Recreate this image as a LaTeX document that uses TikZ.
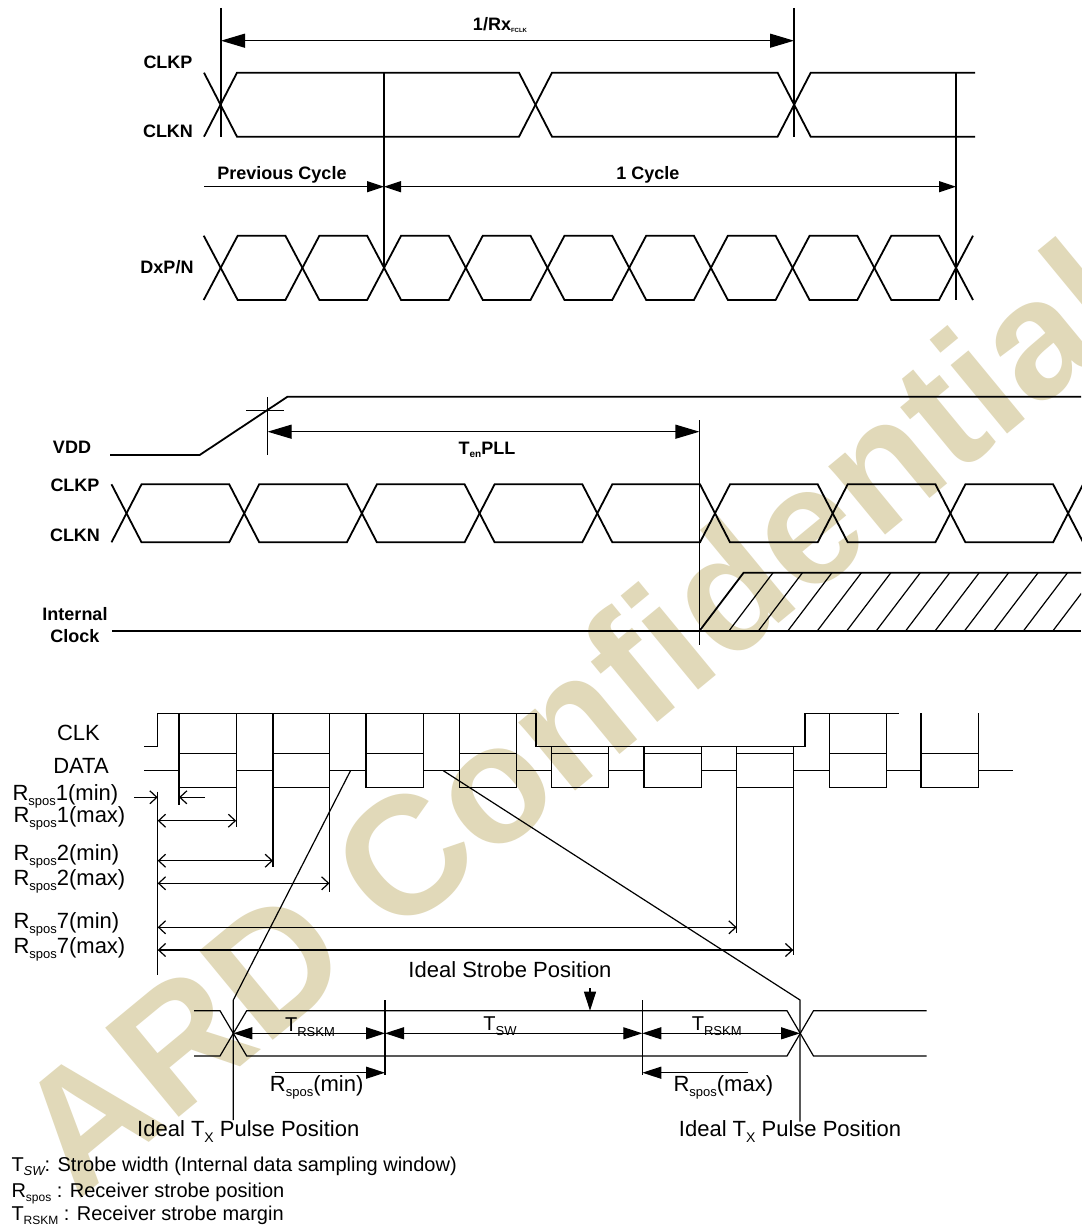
\documentclass[tikz,border=0pt]{standalone}
\usepackage{fontspec}
\setmainfont{Liberation Sans}
\usetikzlibrary{arrows.meta}
\newcommand{\subx}[3]{\raisebox{#1}{\fontsize{#2}{#2}\selectfont #3}}
\newcommand{\Rs}{R\subx{-0.22em}{13}{spos}}
\definecolor{wm}{RGB}{225,217,185}
\begin{document}
\begin{tikzpicture}[x=1pt,y=-1pt,
  wave/.style={line width=1.8pt},
  thinl/.style={line width=1.2pt},
  b18/.style={font=\fontsize{18}{20}\selectfont\bfseries},
  l22/.style={font=\fontsize{22}{24}\selectfont},
  l20/.style={font=\fontsize{20}{22}\selectfont},
  Big/.tip={Triangle[length=24pt,width=14pt]},
  Mid/.tip={Triangle[length=17pt,width=11pt]},
  Sec/.tip={Triangle[length=19pt,width=12pt]},
  Barb/.tip={Straight Barb[length=7pt,width=13pt]}]
\useasboundingbox (0,0) rectangle (1081,1228);
\fill[white] (0,0) rectangle (1081,1228);
% watermark
\begin{scope}
\clip (0,0) rectangle (1081,1228);
\node[rotate=39.5, text=wm, font=\fontsize{168}{168}\selectfont\bfseries] (wmk) at (572,716) {ARD Confidential};
\end{scope}

% ===== Section 1 =====
\node[b18] (rx) at (500,25) {1/Rx\subx{-0.1em}{6}{FCLK}};
\node[b18] (clkp1) at (168,62.7) {CLKP};
\node[b18] (clkn1) at (168,131) {CLKN};
\node[b18] (prev) at (282,175) {Previous Cycle};
\node[b18] (cyc) at (648,175) {1 Cycle};
\node[b18] (dxp) at (167,267) {DxP/N};

\draw[thinl] (221,8) -- (221,137);
\draw[thinl] (794,8) -- (794,137);
\draw[thinl,Big-Big] (221,40.7) -- (794,40.7);
\draw[thinl] (384,72.7) -- (384,267);
\draw[thinl] (956,73) -- (956,300);
\draw[thinl,-Mid] (204,186.7) -- (384,186.7);
\draw[thinl,Mid-Mid] (384,186.7) -- (956,186.7);

\draw[wave] (204,72.7)--(237,136.7)--(519,136.7)--(552,72.7)--(777.6,72.7)--(810.7,136.7)--(975,136.7);
\draw[wave] (204,136.7)--(237,72.7)--(519,72.7)--(552,136.7)--(777.6,136.7)--(810.7,72.7)--(975,72.7);

\draw[wave] (203.7,235.7) \foreach \k in {0,...,9}{
  -- ({220.7+81.7*\k-17},{mod(\k,2)==0 ? 235.7 : 300})
  -- ({220.7+81.7*\k+17},{mod(\k,2)==0 ? 300 : 235.7}) };
\draw[wave] (203.7,300) \foreach \k in {0,...,9}{
  -- ({220.7+81.7*\k-17},{mod(\k,2)==0 ? 300 : 235.7})
  -- ({220.7+81.7*\k+17},{mod(\k,2)==0 ? 235.7 : 300}) };

% ===== Section 2 =====
\node[b18] (vdd) at (72,447.3) {VDD};
\node[b18] (clkp2) at (75,485) {CLKP};
\node[b18] (clkn2) at (75,535.7) {CLKN};
\node[b18] (int) at (75,614.3) {Internal};
\node[b18] (clk2) at (75,636) {Clock};
\node[b18] (ten) at (487,450) {T\subx{-0.2em}{10}{en}PLL};

\draw[wave] (110,455)--(199.7,455)--(287.5,396.7)--(1081,396.7);
\draw[thinl] (267.6,397.3)--(267.6,455);
\draw[thinl] (246,410.7)--(284,410.7);
\draw[thinl,Big-Big] (267.6,431.7)--(699.4,431.7);
\draw[thinl] (699.4,420)--(699.4,645);

\draw[wave] (111.5,484.3) \foreach \k in {0,...,8}{
  -- ({126.5+117.7*\k-15},{mod(\k,2)==0 ? 484.3 : 542.3})
  -- ({126.5+117.7*\k+15},{mod(\k,2)==0 ? 542.3 : 484.3}) };
\draw[wave] (111.5,542.3) \foreach \k in {0,...,8}{
  -- ({126.5+117.7*\k-15},{mod(\k,2)==0 ? 542.3 : 484.3})
  -- ({126.5+117.7*\k+15},{mod(\k,2)==0 ? 484.3 : 542.3}) };

\draw[wave] (112,631)--(1081,631);
\draw[wave] (699.4,631)--(743.6,572.7)--(1081,572.7);
\begin{scope}
\clip (699.4,631)--(743.6,572.7)--(1081,572.7)--(1081,631)--cycle;
\foreach \k in {1,...,13}{
  \draw[thinl] ({699.4+29.45*\k},631)--({699.4+29.45*\k+44.2},572.7);
}
\end{scope}

% ===== Section 3 =====
\node[l22] (clk3) at (78.5,733.3) {CLK};
\node[l22] (data3) at (81,765.7) {DATA};
\node[l22,anchor=west] (r1n) at (9,796.7) {\Rs1(min)};
\node[l22,anchor=west] (r1x) at (10,818.3) {\Rs1(max)};
\node[l22,anchor=west] (r2n) at (10,856.7) {\Rs2(min)};
\node[l22,anchor=west] (r2x) at (10,881.7) {\Rs2(max)};
\node[l22,anchor=west] (r7n) at (10,924) {\Rs7(min)};
\node[l22,anchor=west] (r7x) at (10,949.3) {\Rs7(max)};

% CLK
\draw[thinl] (144,746.7)--(157.7,746.7)--(157.7,713.3)--(536,713.3)--(536,746.7)--(805,746.7)--(805,713.3)--(899.3,713.3);
% DATA line segments
\draw[thinl] (144,770.7)--(179,770.7) (236.2,770.7)--(273,770.7) (329.5,770.7)--(366,770.7)
  (423.5,770.7)--(459.5,770.7) (516.6,770.7)--(551.7,770.7) (608.3,770.7)--(644,770.7)
  (701.7,770.7)--(736.7,770.7) (793.3,770.7)--(829.3,770.7) (886.7,770.7)--(921,770.7)
  (978.3,770.7)--(1013.3,770.7);
% boxes
\foreach \a/\b/\t in {179/236.2/713.3, 273/329.5/713.3, 366/423.5/713.3, 459.5/516.6/713.3,
   551.7/608.3/746.7, 644/701.7/746.7, 736.7/793.3/746.7, 829.3/886.7/713.3, 921/978.3/713.3}{
  \draw[thinl] (\a,\t)--(\a,787.3)--(\b,787.3)--(\b,\t);
  \draw[thinl] (\a,753.3)--(\b,753.3);
}
% extensions
\draw[thinl] (179,787.3)--(179,805);
\draw[thinl] (236.2,787.3)--(236.2,826.7);
\draw[thinl] (273,787.3)--(273,866.7);
\draw[thinl] (329.5,787.3)--(329.5,891.7);
\draw[thinl] (736.7,787.3)--(736.7,933);
\draw[thinl] (793.3,787.3)--(793.3,955);
\draw[thinl] (157.7,791.7)--(157.7,975);
% Rspos arrows
\draw[thinl,-Barb] (134,797.3)--(157.7,797.3);
\draw[thinl,-Barb] (205,797.3)--(179,797.3);
\draw[thinl,Barb-Barb] (157.7,820.7)--(236.2,820.7);
\draw[thinl,Barb-Barb] (157.7,860.7)--(273,860.7);
\draw[thinl,Barb-Barb] (157.7,883.3)--(329.5,883.3);
\draw[thinl,Barb-Barb] (157.7,927.3)--(736.7,927.3);
\draw[thinl,Barb-Barb] (157.7,950)--(793.3,950);

% slanted pointers
\draw[thinl] (350.5,770.7)--(233.3,1000)--(233.3,1120);
\draw[thinl] (443.3,770.7)--(800,1000)--(800,1121.7);

% eye
\draw[thinl] (194,1010.7)--(220,1010.7)--(246.7,1056)--(787,1056)--(813.5,1010.7)--(926.7,1010.7);
\draw[thinl] (194,1056)--(220,1056)--(246.7,1010.7)--(787,1010.7)--(813.5,1056)--(926.7,1056);
\draw[thinl] (385,1000)--(385,1075);
\draw[thinl] (642.3,1000)--(642.3,1075);
\draw[thinl,Sec-Sec] (233.3,1033.3)--(385,1033.3);
\draw[thinl,Sec-Sec] (385,1033.3)--(642.3,1033.3);
\draw[thinl,Sec-Sec] (642.3,1033.3)--(800,1033.3);
\draw[thinl,-Sec] (275,1072.7)--(385,1072.7);
\draw[thinl,-Sec] (748.3,1072.7)--(642.3,1072.7);
\draw[thinl,-Sec] (590,988)--(590,1010.7);

\node[l20,anchor=base] (trl) at (310,1031) {T\subx{-0.25em}{13}{RSKM}};
\node[l20,anchor=base] (tsw) at (500,1030.5) {T\subx{-0.25em}{13}{SW}};
\node[l20,anchor=base] (trr) at (716.7,1030) {T\subx{-0.25em}{13}{RSKM}};
\node[l22] (rmin) at (316.7,1087.3) {\Rs(min)};
\node[l22] (rmax) at (723.3,1087) {\Rs(max)};
\node[l22] (isp) at (510,969.3) {Ideal Strobe Position};
\node[l22] (itl) at (248.3,1131.7) {Ideal T\subx{-0.25em}{14}{X} Pulse Position};
\node[l22] (itr) at (790,1131.7) {Ideal T\subx{-0.25em}{14}{X} Pulse Position};

% footnotes
\node[l20,anchor=west] (f1) at (8,1166.7) {T\subx{-0.2em}{13}{\itshape SW}: Strobe width (Internal data sampling window)};
\node[l20,anchor=west] (f2) at (8,1193.3) {R\subx{-0.2em}{12}{spos} : Receiver strobe position};
\node[l20,anchor=west] (f3) at (8,1215) {T\subx{-0.2em}{12}{RSKM} : Receiver strobe margin};
\end{tikzpicture}
\end{document}
